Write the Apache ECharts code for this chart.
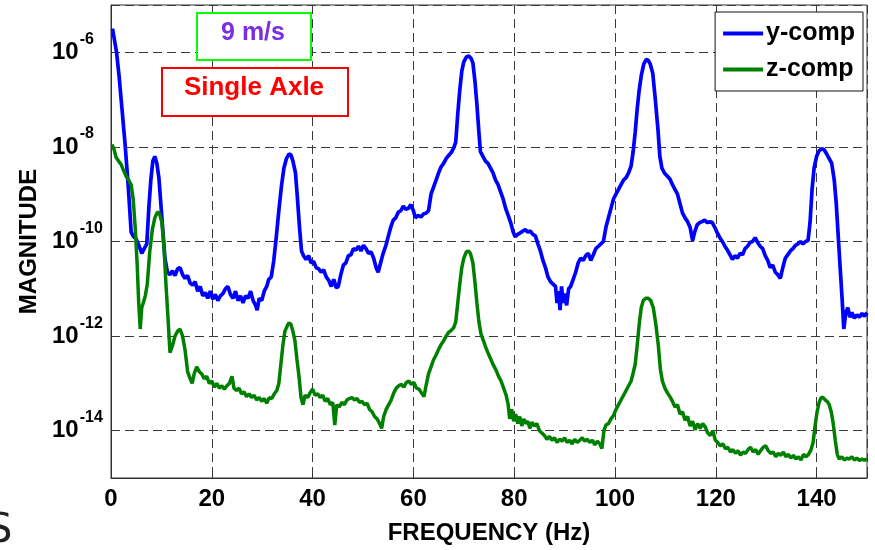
<!DOCTYPE html>
<html><head><meta charset="utf-8">
<script src="https://cdn.jsdelivr.net/npm/echarts@6/dist/echarts.min.js"></script>
<style>html,body{margin:0;padding:0;background:#fff}#c{width:875px;height:550px}</style>
</head><body><div id="c"></div>
<script>
// Frequency (Hz) and log10(magnitude)
const yFreq = [0.3,0.7,1.1,1.6,2.1,2.8,3.4,4.0,4.5,5.0,5.6,6.1,6.6,7.1,7.5,7.9,8.3,8.7,9.1,9.5,10.1,10.7,11.2,11.7,12.2,12.7,13.2,13.7,14.2,14.7,15.2,15.7,16.2,16.7,17.2,17.7,18.2,18.7,19.2,19.7,20.2,20.7,21.2,21.7,22.2,22.7,23.2,23.7,24.2,24.7,25.2,25.7,26.2,26.7,27.2,27.7,28.2,28.7,29.0,29.4,29.9,30.4,30.9,31.3,31.8,32.3,32.8,33.3,33.8,34.3,34.8,35.3,35.7,36.1,36.6,37.0,37.4,37.8,38.2,38.7,39.2,39.7,40.2,40.7,41.2,41.7,42.2,42.7,43.2,43.7,44.2,44.7,45.1,45.6,46.1,46.6,47.1,47.6,48.1,48.6,49.1,49.6,50.1,50.6,51.1,51.6,52.1,52.6,53.0,53.5,54.0,54.5,55.0,55.5,56.0,56.5,57.0,57.5,58.0,58.5,59.0,59.5,60.0,60.4,60.9,61.5,62.0,62.5,63.0,63.5,64.0,64.5,65.0,65.5,66.0,66.5,67.0,67.5,68.0,68.4,68.8,69.2,69.6,70.0,70.5,71.0,71.4,71.8,72.2,72.6,73.0,73.3,73.8,74.3,74.8,75.3,75.8,76.3,76.8,77.3,77.8,78.3,78.8,79.3,79.8,80.2,80.7,81.2,81.7,82.2,82.7,83.2,83.7,84.2,84.7,85.2,85.7,86.2,86.7,87.2,87.7,88.2,88.5,88.8,89.1,89.4,89.7,90.0,90.4,90.8,91.2,91.7,92.2,92.7,93.2,93.7,94.2,94.7,95.2,95.7,96.2,96.7,97.2,97.7,98.2,98.7,99.2,99.7,100.2,100.7,101.2,101.7,102.2,102.7,103.2,103.6,104.0,104.4,104.8,105.2,105.7,106.2,106.6,107.0,107.5,108.0,108.5,108.9,109.3,109.8,110.4,110.9,111.4,111.9,112.4,112.9,113.4,113.9,114.4,114.9,115.4,115.8,116.3,116.8,117.3,117.8,118.3,118.8,119.3,119.8,120.3,120.8,121.3,121.8,122.3,122.8,123.3,123.8,124.3,124.8,125.3,125.8,126.3,126.8,127.3,127.8,128.3,128.8,129.3,129.8,130.3,130.8,131.3,131.8,132.3,132.8,133.3,133.8,134.3,134.8,135.3,135.8,136.3,136.8,137.3,137.8,138.3,138.7,139.1,139.5,140.0,140.5,141.0,141.5,142.0,142.5,143.0,143.5,143.9,144.3,144.7,145.0,145.4,145.8,146.2,146.6,147.0,147.5,148.0,148.5,149.0,149.5,150.0];
const yLog = [-5.5,-5.75,-6.0,-6.5,-7.1,-7.95,-8.8,-9.8,-9.9,-9.95,-10.1,-10.25,-10.15,-10.05,-9.3,-8.7,-8.3,-8.2,-8.35,-8.65,-9.5,-10.35,-10.65,-10.7,-10.62,-10.72,-10.58,-10.55,-10.7,-10.78,-10.72,-10.88,-10.92,-10.85,-11.05,-10.95,-11.15,-11.08,-11.2,-11.05,-11.22,-11.12,-11.25,-11.15,-11.1,-11.0,-10.95,-11.12,-11.2,-11.05,-11.25,-11.15,-11.3,-11.15,-11.2,-11.05,-11.25,-11.35,-11.45,-11.2,-11.25,-11.05,-10.95,-10.8,-10.75,-10.4,-9.9,-9.35,-8.85,-8.45,-8.25,-8.15,-8.17,-8.3,-8.55,-9.1,-9.7,-10.2,-10.3,-10.38,-10.3,-10.45,-10.42,-10.55,-10.58,-10.65,-10.6,-10.75,-10.82,-10.95,-10.8,-10.98,-10.95,-10.7,-10.5,-10.45,-10.3,-10.28,-10.15,-10.18,-10.1,-10.2,-10.08,-10.15,-10.25,-10.22,-10.35,-10.55,-10.65,-10.45,-10.25,-10.1,-9.9,-9.7,-9.55,-9.5,-9.38,-9.35,-9.25,-9.32,-9.3,-9.22,-9.35,-9.5,-9.45,-9.48,-9.42,-9.4,-9.35,-9.0,-8.85,-8.7,-8.55,-8.42,-8.35,-8.25,-8.18,-8.12,-8.02,-7.9,-7.3,-6.8,-6.4,-6.2,-6.1,-6.08,-6.12,-6.22,-6.6,-7.1,-7.7,-8.1,-8.2,-8.3,-8.35,-8.45,-8.55,-8.7,-8.8,-8.95,-9.1,-9.3,-9.45,-9.6,-9.8,-9.9,-9.85,-9.82,-9.78,-9.75,-9.8,-9.78,-9.85,-9.88,-10.05,-10.2,-10.4,-10.55,-10.75,-10.85,-10.9,-10.95,-11.3,-11.05,-11.45,-10.95,-11.3,-11.1,-11.35,-11.0,-10.95,-10.8,-10.65,-10.45,-10.35,-10.4,-10.3,-10.25,-10.4,-10.28,-10.15,-10.1,-10.05,-10.0,-9.7,-9.5,-9.3,-9.1,-9.0,-8.9,-8.8,-8.7,-8.65,-8.55,-8.4,-8.1,-7.7,-7.2,-6.8,-6.5,-6.25,-6.15,-6.17,-6.25,-6.45,-7.0,-7.6,-8.2,-8.45,-8.55,-8.62,-8.68,-8.8,-8.9,-9.0,-9.2,-9.4,-9.5,-9.58,-9.7,-9.98,-9.8,-9.65,-9.6,-9.58,-9.55,-9.6,-9.58,-9.6,-9.7,-9.82,-9.92,-10.0,-10.1,-10.18,-10.28,-10.38,-10.3,-10.35,-10.25,-10.28,-10.15,-10.1,-10.02,-10.0,-9.92,-10.02,-10.1,-10.15,-10.3,-10.4,-10.55,-10.5,-10.65,-10.7,-10.78,-10.55,-10.35,-10.28,-10.2,-10.15,-10.08,-10.05,-10.0,-10.05,-10.0,-9.98,-9.6,-8.9,-8.45,-8.2,-8.08,-8.04,-8.06,-8.15,-8.25,-8.35,-8.7,-9.2,-9.9,-10.6,-11.1,-11.85,-11.5,-11.4,-11.6,-11.5,-11.62,-11.55,-11.6,-11.52,-11.58,-11.5];

const zFreq = [0.2,0.6,1.0,1.5,2.0,2.5,3.0,3.5,4.0,4.4,4.8,5.2,5.5,5.8,6.1,6.4,6.8,7.2,7.7,8.2,8.7,9.2,9.6,10.1,10.5,10.9,11.3,11.7,12.2,12.7,13.2,13.7,14.2,14.7,15.2,15.7,16.1,16.5,17.0,17.5,18.0,18.5,19.0,19.5,20.0,20.5,21.0,21.5,22.0,22.5,23.0,23.5,24.0,24.4,24.9,25.4,25.9,26.4,26.9,27.4,27.9,28.4,28.9,29.4,29.9,30.4,30.9,31.4,31.9,32.4,32.9,33.3,33.7,34.1,34.5,34.9,35.3,35.7,36.1,36.5,36.9,37.3,37.7,38.1,38.5,39.0,39.5,40.0,40.5,41.0,41.5,42.0,42.5,43.0,43.5,44.0,44.4,44.8,45.3,45.8,46.3,46.8,47.3,47.8,48.3,48.8,49.3,49.8,50.3,50.8,51.3,51.8,52.3,52.8,53.3,53.7,54.1,54.6,55.1,55.6,56.1,56.6,57.1,57.6,58.1,58.6,59.1,59.6,60.1,60.6,61.1,61.6,62.1,62.5,63.0,63.5,64.0,64.5,65.0,65.5,66.0,66.5,67.0,67.5,68.0,68.4,68.8,69.2,69.6,70.0,70.5,70.9,71.3,71.8,72.2,72.6,73.0,73.4,73.9,74.4,74.9,75.4,75.9,76.4,76.9,77.4,77.9,78.4,78.8,79.1,79.5,79.9,80.3,80.7,81.1,81.5,81.9,82.3,82.7,83.1,83.5,84.0,84.5,85.0,85.5,86.0,86.5,87.0,87.5,88.0,88.5,89.0,89.5,90.0,90.5,91.0,91.5,92.0,92.5,93.0,93.5,94.0,94.5,95.0,95.5,96.0,96.5,97.0,97.4,97.8,98.2,98.7,99.2,99.7,100.2,100.7,101.2,101.7,102.2,102.7,103.2,103.6,104.0,104.4,104.8,105.2,105.6,106.1,106.6,107.1,107.6,108.1,108.6,109.0,109.4,109.9,110.4,110.9,111.4,111.9,112.4,112.9,113.4,113.9,114.4,114.9,115.4,115.9,116.4,116.9,117.4,117.9,118.4,118.9,119.4,119.9,120.4,120.9,121.4,121.9,122.4,122.9,123.4,123.9,124.4,124.9,125.4,125.9,126.4,126.9,127.4,127.9,128.4,128.9,129.4,129.9,130.4,130.9,131.4,131.9,132.4,132.9,133.4,133.9,134.4,134.9,135.4,135.9,136.4,136.9,137.4,137.9,138.4,138.9,139.3,139.7,140.1,140.5,140.9,141.3,141.7,142.1,142.5,142.9,143.3,143.7,144.1,144.5,145.0,145.5,146.0,146.5,147.0,147.5,148.0,148.5,149.0,149.5,150.0];
const zLog = [-7.95,-8.05,-8.22,-8.3,-8.37,-8.5,-8.62,-8.7,-8.8,-9.1,-9.7,-10.5,-11.3,-11.85,-11.4,-11.3,-11.15,-10.9,-10.2,-9.75,-9.5,-9.38,-9.4,-9.6,-10.1,-10.9,-11.6,-12.35,-12.2,-12.0,-11.9,-11.85,-12.0,-12.3,-12.75,-12.9,-13.0,-12.8,-12.65,-12.75,-12.8,-12.9,-12.85,-13.0,-12.95,-13.08,-13.0,-13.1,-13.05,-13.12,-13.05,-13.0,-12.85,-13.1,-13.15,-13.1,-13.22,-13.18,-13.28,-13.22,-13.3,-13.25,-13.35,-13.3,-13.38,-13.32,-13.42,-13.3,-13.32,-13.22,-13.15,-13.0,-12.6,-12.2,-11.9,-11.8,-11.72,-11.75,-11.9,-12.1,-12.5,-12.85,-13.3,-13.45,-13.25,-13.3,-13.2,-13.12,-13.25,-13.22,-13.3,-13.25,-13.38,-13.32,-13.45,-13.4,-13.88,-13.45,-13.5,-13.4,-13.45,-13.35,-13.32,-13.3,-13.35,-13.32,-13.4,-13.38,-13.45,-13.42,-13.55,-13.6,-13.7,-13.75,-13.85,-13.95,-13.7,-13.55,-13.45,-13.35,-13.2,-13.1,-13.05,-13.02,-13.08,-12.98,-12.95,-13.02,-12.98,-13.1,-13.12,-13.2,-13.28,-13.05,-12.8,-12.65,-12.5,-12.4,-12.28,-12.18,-12.1,-12.0,-11.92,-11.88,-11.82,-11.7,-11.3,-10.9,-10.55,-10.35,-10.22,-10.2,-10.25,-10.45,-10.85,-11.3,-11.7,-11.95,-12.1,-12.25,-12.38,-12.5,-12.62,-12.72,-12.85,-12.95,-13.1,-13.25,-13.45,-13.75,-13.55,-13.8,-13.65,-13.85,-13.7,-13.9,-13.75,-13.85,-13.8,-13.95,-13.82,-13.9,-13.85,-14.0,-14.05,-14.1,-14.18,-14.12,-14.2,-14.15,-14.25,-14.18,-14.22,-14.15,-14.25,-14.2,-14.28,-14.18,-14.25,-14.2,-14.15,-14.22,-14.18,-14.25,-14.2,-14.3,-14.22,-14.28,-14.38,-14.0,-13.88,-13.85,-13.75,-13.68,-13.55,-13.45,-13.35,-13.25,-13.15,-13.05,-12.95,-12.78,-12.6,-12.2,-11.75,-11.4,-11.25,-11.2,-11.2,-11.25,-11.4,-11.75,-12.2,-12.7,-12.95,-13.1,-13.2,-13.28,-13.38,-13.5,-13.45,-13.65,-13.6,-13.78,-13.7,-13.9,-13.8,-13.98,-13.85,-13.95,-13.85,-13.92,-14.05,-14.1,-14.0,-14.2,-14.25,-14.32,-14.28,-14.38,-14.35,-14.45,-14.4,-14.48,-14.42,-14.52,-14.45,-14.48,-14.4,-14.35,-14.45,-14.4,-14.5,-14.42,-14.35,-14.32,-14.42,-14.48,-14.45,-14.55,-14.48,-14.52,-14.45,-14.55,-14.5,-14.58,-14.52,-14.6,-14.55,-14.62,-14.5,-14.55,-14.5,-14.4,-14.25,-13.9,-13.6,-13.4,-13.3,-13.3,-13.35,-13.38,-13.45,-13.6,-13.85,-14.2,-14.5,-14.6,-14.55,-14.62,-14.58,-14.6,-14.55,-14.62,-14.58,-14.63,-14.6,-14.62,-14.6];

const seriesNames = ['y-comp', 'z-comp'];
const xTicks = [0, 20, 40, 60, 80, 100, 120, 140];
const yTickExps = [-14, -12, -10, -8, -6];

const FONT = 'Liberation Sans, Arial, Helvetica, sans-serif';
const toPairs = (f, l) => f.map((x, i) => [x, Math.pow(10, l[i])]);

const chart = echarts.init(document.getElementById('c'), null, {renderer: 'canvas'});
const dashed = {show: true, lineStyle: {color: '#3a3a3a', width: 1, type: [9, 5]}};
chart.setOption({
  animation: false,
  backgroundColor: '#fff',
  grid: {left: 111, right: 8, top: 5, bottom: 67, show: true, borderColor: '#333', borderWidth: 1, backgroundColor: 'transparent'},
  legend: {
    data: seriesNames, orient: 'vertical', right: 12, top: 12,
    backgroundColor: '#fff', borderColor: '#111', borderWidth: 1, borderRadius: 0,
    padding: [9, 8, 9, 8], itemGap: 11, itemWidth: 40, itemHeight: 4, icon: 'rect',
    textStyle: {fontFamily: FONT, fontSize: 25, fontWeight: 'bold', color: '#000', padding: [0, 0, 0, -2]}
  },
  xAxis: {
    type: 'value', min: 0, max: 150, interval: 20,
    name: 'FREQUENCY (Hz)', nameLocation: 'middle', nameGap: 43,
    nameTextStyle: {fontFamily: FONT, fontSize: 24, fontWeight: 'bold', color: '#000'},
    axisLine: {show: true, lineStyle: {color: '#333', width: 1}},
    axisTick: {show: true, inside: true, length: 5, lineStyle: {color: '#333'}},
    axisLabel: {fontFamily: FONT, fontSize: 24, fontWeight: 'bold', color: '#000', margin: 9,
      formatter: v => xTicks.indexOf(v) >= 0 ? String(v) : ''},
    splitLine: dashed
  },
  yAxis: {
    type: 'log', logBase: 100, min: 1e-15, max: 1e-5,
    name: 'MAGNITUDE', nameLocation: 'middle', nameGap: 70, nameRotate: 90,
    nameTextStyle: {fontFamily: FONT, fontSize: 24, fontWeight: 'bold', color: '#000'},
    axisLine: {show: true, lineStyle: {color: '#333', width: 1}},
    axisTick: {show: false},
    axisLabel: {
      align: 'left', margin: 59,
      formatter: v => {
        const e = Math.round(Math.log10(v));
        return yTickExps.indexOf(e) >= 0 ? '{b|10}{e|' + e + '}' : '';
      },
      rich: {
        b: {fontFamily: FONT, fontSize: 24, fontWeight: 'bold', color: '#000'},
        e: {fontFamily: FONT, fontSize: 16, fontWeight: 'bold', color: '#000', padding: [0, 0, 26, 1]}
      }
    },
    splitLine: dashed
  },
  graphic: [
    {type: 'rect', left: 196, top: 12, shape: {width: 114, height: 47}, style: {fill: '#fff', stroke: '#00ff00', lineWidth: 2}, z: 100},
    {type: 'text', x: 253, y: 33, style: {text: '9 m/s', fontFamily: FONT, fontSize: 25, fontWeight: 'bold', fill: '#7a2ee6', align: 'center', verticalAlign: 'middle'}, z: 101},
    {type: 'rect', left: 161, top: 67, shape: {width: 186, height: 48}, style: {fill: '#fff', stroke: '#ff0000', lineWidth: 2}, z: 100},
    {type: 'text', x: 254, y: 88, style: {text: 'Single Axle', fontFamily: FONT, fontSize: 26, fontWeight: 'bold', fill: '#ff0000', align: 'center', verticalAlign: 'middle'}, z: 101},
    {type: 'text', x: -13, y: 512, style: {text: 'S', fontFamily: 'DejaVu Sans, sans-serif', fontSize: 40, fill: '#222'}, z: 101}
  ],
  series: [
    {name: seriesNames[0], type: 'line', data: toPairs(yFreq, yLog), showSymbol: false, symbol: 'none',
     lineStyle: {color: '#0000ff', width: 3.7}, itemStyle: {color: '#0000ff'}, z: 3},
    {name: seriesNames[1], type: 'line', data: toPairs(zFreq, zLog), showSymbol: false, symbol: 'none',
     lineStyle: {color: '#008000', width: 3.5}, itemStyle: {color: '#008000'}, z: 4}
  ]
});
</script></body></html>
